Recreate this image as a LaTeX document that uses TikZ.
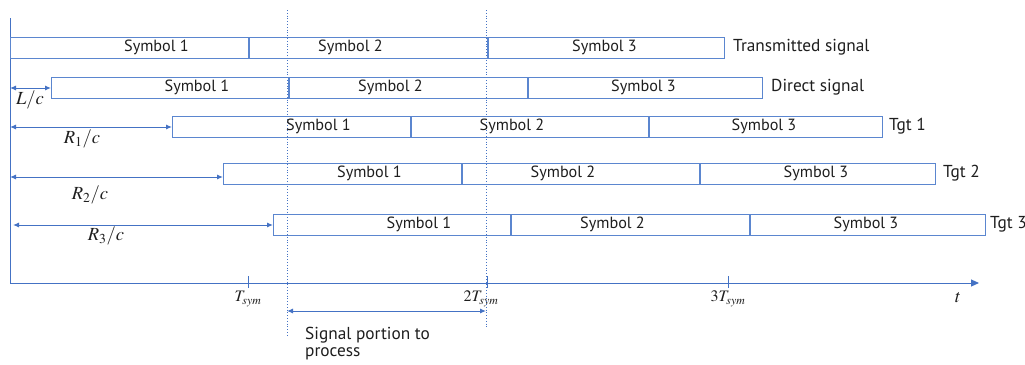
\documentclass[tikz,border=0pt]{standalone}
\usepackage{mathptmx}
\usepackage{fontspec}
\setmainfont{PT Sans}
\usetikzlibrary{arrows.meta}
\definecolor{lineblue}{HTML}{4472C4}
\definecolor{boxblue}{HTML}{5B86CF}
\definecolor{txt}{HTML}{1E1E1E}
\begin{document}
\begin{tikzpicture}[x=1pt,y=-1pt,
  symbox/.style={draw=boxblue, line width=1pt, minimum height=21pt, inner sep=0pt, anchor=west},
  symtext/.style={inner sep=0pt, text=txt, font=\fontsize{16.2}{18}\selectfont},
  first/.style={label={[symtext, xshift=27pt]center:#1}},
  second/.style={label={[symtext, xshift=-18pt]center:#1}},
  third/.style={label={[symtext, xshift=-2pt]center:#1}},
  rowlabel/.style={anchor=west, inner sep=0pt, text=txt, font=\fontsize{17.3}{19}\selectfont},
  delay/.style={draw=lineblue, line width=1pt, {Latex[length=6pt,width=5pt]}-{Latex[length=6pt,width=5pt]}},
  mathlabel/.style={inner sep=0pt, text=txt, font=\fontsize{18.5}{20}\selectfont},
  ticklabel/.style={inner sep=0pt, text=txt, font=\fontsize{16}{18}\selectfont},
  guide/.style={draw=lineblue, line width=0.8pt, dotted},
  axis/.style={draw=lineblue, line width=1pt}]
\useasboundingbox (0,0) rectangle (1025,364);

% axes
\coordinate (top) at (10,18);
\coordinate (o) at (10,283);
\coordinate (tend) at (979,283);
\draw[axis] (top) -- (o);
\draw[axis, -{Triangle[length=8pt,width=7pt]}] (o) -- (tend);
\node[mathlabel] (tl) at (958,298) {$t$};

% ticks on the time axis
\coordinate (k1a) at (248,276); \coordinate (k1b) at (248,288);
\coordinate (k2a) at (487,276); \coordinate (k2b) at (487,288);
\coordinate (k3a) at (728,276); \coordinate (k3b) at (728,288);
\draw[axis] (k1a) -- (k1b);
\draw[axis] (k2a) -- (k2b);
\draw[axis] (k3a) -- (k3b);
\node[ticklabel] (l1) at (248,299) {$T_{sym}$};
\node[ticklabel] (l2) at (481,299) {$2T_{sym}$};
\node[ticklabel] (l3) at (728,299) {$3T_{sym}$};

% processing window guides
\coordinate (g1a) at (287,10); \coordinate (g1b) at (287,335);
\coordinate (g2a) at (486,10); \coordinate (g2b) at (486,328);
\draw[guide] (g1a) -- (g1b);
\draw[guide] (g2a) -- (g2b);

% transmitted signal
\node[symbox, minimum width=238pt, first=Symbol 1] (x1) at (10,47.5) {};
\node[symbox, minimum width=238pt, second=Symbol 2] (x2) at (x1.east) {};
\node[symbox, minimum width=236pt, third=Symbol 3] (x3) at (x2.east) {};
\node[rowlabel] (xl) at ([xshift=8pt]x3.east) {Transmitted signal};

% direct signal
\node[symbox, minimum width=237pt, first=Symbol 1] (d1) at (51,87.5) {};
\node[symbox, minimum width=238pt, second=Symbol 2] (d2) at (d1.east) {};
\node[symbox, minimum width=234pt, third=Symbol 3] (d3) at (d2.east) {};
\node[rowlabel] (dl) at ([xshift=8pt]d3.east) {Direct signal};

% target 1
\node[symbox, minimum width=238pt, first=Symbol 1] (a1) at (172,126.5) {};
\node[symbox, minimum width=237pt, second=Symbol 2] (a2) at (a1.east) {};
\node[symbox, minimum width=233pt, third=Symbol 3] (a3) at (a2.east) {};
\node[rowlabel] (al) at ([xshift=6pt]a3.east) {Tgt 1};

% target 2
\node[symbox, minimum width=238pt, first=Symbol 1] (b1) at (223,173.5) {};
\node[symbox, minimum width=237pt, second=Symbol 2] (b2) at (b1.east) {};
\node[symbox, minimum width=235pt, third=Symbol 3] (b3) at (b2.east) {};
\node[rowlabel] (bl) at ([xshift=7pt]b3.east) {Tgt 2};

% target 3
\node[symbox, minimum width=237pt, first=Symbol 1] (c1) at (273,224.5) {};
\node[symbox, minimum width=238pt, second=Symbol 2] (c2) at (c1.east) {};
\node[symbox, minimum width=235pt, third=Symbol 3] (c3) at (c2.east) {};
\node[rowlabel] (cl) at ([xshift=4pt]c3.east) {Tgt 3};

% propagation delays
\coordinate (sL) at (10,88);
\coordinate (s1) at (10,127);
\coordinate (s2) at (10,177);
\coordinate (s3) at (13,225);
\draw[delay] (sL) -- (sL -| d1.west);
\draw[delay] (s1) -- (s1 -| a1.west);
\draw[delay] (s2) -- (s2 -| b1.west);
\draw[delay] (s3) -- (s3 -| c1.west);
\node[mathlabel] (Ll) at (30,100) {$L/c$};
\node[mathlabel] (R1l) at (82,139) {$R_1/c$};
\node[mathlabel] (R2l) at (90,195) {$R_2/c$};
\node[mathlabel] (R3l) at (106,236) {$R_3/c$};

% portion of the signal that is processed
\coordinate (p1) at (287,311);
\coordinate (p2) at (486,311);
\draw[delay] (p1) -- (p2);
\node[rowlabel, anchor=north west, align=left, font=\fontsize{17.3}{17}\selectfont] (pl) at (305,327) {Signal portion to\\process};
\end{tikzpicture}
\end{document}
